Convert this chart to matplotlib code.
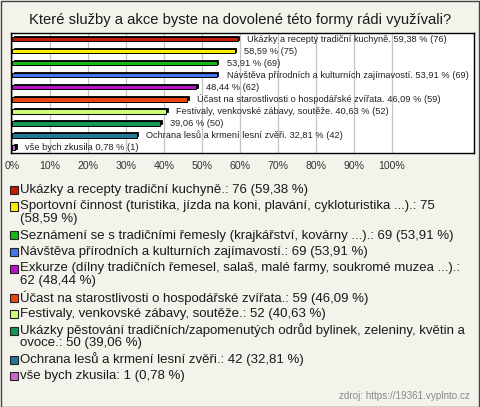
import matplotlib
matplotlib.use("Agg")
import matplotlib.pyplot as plt
from matplotlib.patches import Rectangle

plt.rcParams['font.family'] = ['Liberation Sans', 'DejaVu Sans']

title = "Které služby a akce byste na dovolené této formy rádi využívali?"
categories = [
    "Ukázky a recepty tradiční kuchyně.",
    "Sportovní činnost (turistika, jízda na koni, plavání, cykloturistika ...).",
    "Seznámení se s tradičními řemesly (krajkářství, kovárny ...).",
    "Návštěva přírodních a kulturních zajímavostí.",
    "Exkurze (dílny tradičních řemesel, salaš, malé farmy, soukromé muzea ...).",
    "Účast na starostlivosti o hospodářské zvířata.",
    "Festivaly, venkovské zábavy, soutěže.",
    "Ukázky pěstování tradičních/zapomenutých odrůd bylinek, zeleniny, květin a ovoce.",
    "Ochrana lesů a krmení lesní zvěři.",
    "vše bych zkusila",
]
counts = [76, 75, 69, 69, 62, 59, 52, 50, 42, 1]
percents = [59.38, 58.59, 53.91, 53.91, 48.44, 46.09, 40.63, 39.06, 32.81, 0.78]
show_name = [True, False, False, True, False, True, True, False, True, True]
colors = ["#c41a00", "#ffee00", "#11bb11", "#4477ee", "#bb11cc",
          "#ee4411", "#ccff77", "#119955", "#227799", "#cc66cc"]
legend_lines = [
    ["Ukázky a recepty tradiční kuchyně.: 76 (59,38 %)"],
    ["Sportovní činnost (turistika, jízda na koni, plavání, cykloturistika ...).: 75", "(58,59 %)"],
    ["Seznámení se s tradičními řemesly (krajkářství, kovárny ...).: 69 (53,91 %)"],
    ["Návštěva přírodních a kulturních zajímavostí.: 69 (53,91 %)"],
    ["Exkurze (dílny tradičních řemesel, salaš, malé farmy, soukromé muzea ...).:", "62 (48,44 %)"],
    ["Účast na starostlivosti o hospodářské zvířata.: 59 (46,09 %)"],
    ["Festivaly, venkovské zábavy, soutěže.: 52 (40,63 %)"],
    ["Ukázky pěstování tradičních/zapomenutých odrůd bylinek, zeleniny, květin a", "ovoce.: 50 (39,06 %)"],
    ["Ochrana lesů a krmení lesní zvěři.: 42 (32,81 %)"],
    ["vše bych zkusila: 1 (0,78 %)"],
]
xticks = [0, 10, 20, 30, 40, 50, 60, 70, 80, 90, 100]
xticklabels = ["0%", "10%", "20%", "30%", "40%", "50%", "60%", "70%", "80%", "90%", "100%"]
source = "zdroj: https://19361.vyplnto.cz"

W, H = 480, 407
fig = plt.figure(figsize=(W / 100, H / 100), dpi=100)
fig.patch.set_facecolor("#f3f2eb")
fig.patches.append(Rectangle((0.5 / W, 0.5 / H), 1 - 1.5 / W, 1 - 1.5 / H, transform=fig.transFigure,
                             fill=False, edgecolor="#444444", linewidth=1.0))

def fy(py):
    return 1 - py / H

fig.text(240 / W, fy(20), title, ha="center", va="center", fontsize=10.6, color="#1a1a1a")

ax = fig.add_axes([11 / W, fy(153), 463 / W, 120 / H])
ax.set_facecolor("white")
ax.set_xlim(-0.26, 121.6)
n = len(categories)
ax.set_ylim(n - 0.55, -0.5)
for x in xticks:
    ax.axvline(x, color="#c4c4c4", linewidth=0.9, zorder=0)
ax.set_xticks(xticks)
ax.set_xticklabels(xticklabels)
ax.tick_params(axis="x", length=0, pad=6, labelsize=7.6, labelcolor="#333333")
ax.set_yticks([])
for s in ax.spines.values():
    s.set_color("black")
    s.set_linewidth(1.0)

ppx = 121.86 / 463  # data units per pixel (x)
ppy = 1 / 12.0      # data units per pixel (y)
h = 0.36
for i, (v, c) in enumerate(zip(percents, colors)):
    ax.barh(i - 1.2 * ppy, v, left=1.6 * ppx, height=h, color="black", edgecolor="black",
            linewidth=0.6, zorder=2)
    ax.barh(i, v, height=h, color=c, edgecolor="black", linewidth=0.7, zorder=3)
    pct = f"{v:.2f}".replace(".", ",")
    lab = (categories[i] + " " if show_name[i] else "") + f"{pct} % ({counts[i]})"
    ax.annotate(lab, (v, i), xytext=(7, 0), textcoords="offset points", va="center",
                ha="left", fontsize=6.65, color="#222222", zorder=4)

# legend
y = 190
for lines, c in zip(legend_lines, colors):
    fig.patches.append(Rectangle((10 / W, fy(y + 4)), 8 / W, 8 / H, transform=fig.transFigure,
                                 facecolor=c, edgecolor="#222222", linewidth=0.8))
    for j, ln in enumerate(lines):
        fig.text(20 / W, fy(y), ln, ha="left", va="center", fontsize=9.5, color="#1a1a1a")
        if j < len(lines) - 1:
            y += 12.5
    y += 16.5

fig.text(470 / W, fy(396), source, ha="right", va="center", fontsize=7.1, color="#888888")

fig.savefig("out.png", dpi=100, facecolor=fig.get_facecolor())
